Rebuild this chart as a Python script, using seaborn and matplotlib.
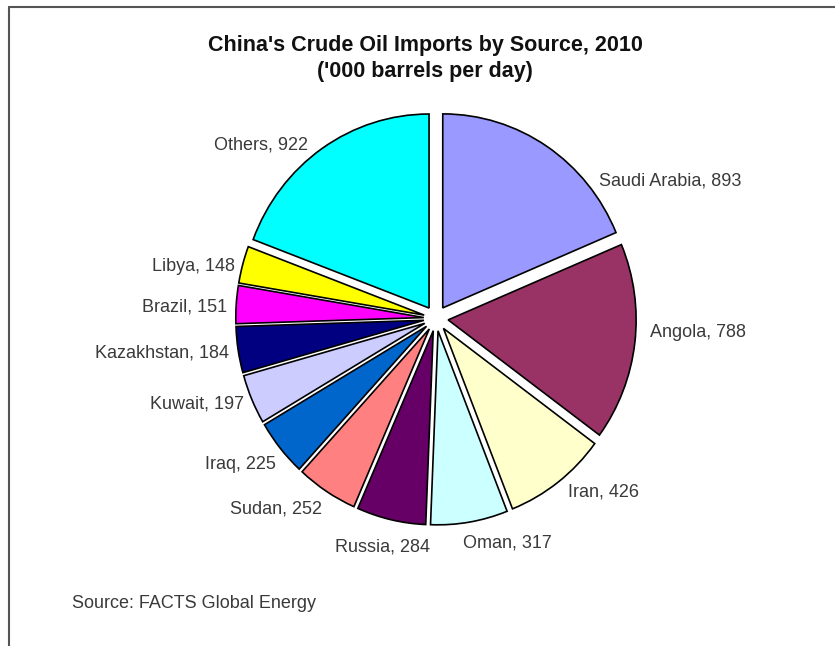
import matplotlib
matplotlib.use("Agg")
import matplotlib.pyplot as plt
from matplotlib.lines import Line2D
import seaborn as sns

# data ('000 barrels per day)
countries = ['Saudi Arabia', 'Angola', 'Iran', 'Oman', 'Russia', 'Sudan',
             'Iraq', 'Kuwait', 'Kazakhstan', 'Brazil', 'Libya', 'Others']
imports = [893, 788, 426, 317, 284, 252, 225, 197, 184, 151, 148, 922]
colors = ['#9999FF', '#993366', '#FFFFCC', '#CCFFFF', '#660066', '#FF8080',
          '#0066CC', '#CCCCFF', '#000080', '#FF00FF', '#FFFF00', '#00FFFF']

# label anchors (pie radius units) and alignment, Excel style layout
label_pos = [(0.867, 0.708), (1.138, -0.075), (0.702, -0.894), (0.144, -1.157),
             (-0.032, -1.178), (-0.606, -0.982), (-0.851, -0.755), (-1.021, -0.441),
             (-1.101, -0.178), (-1.112, 0.059), (-1.069, 0.270), (-0.681, 0.894)]
label_ha = ['left', 'left', 'left', 'left', 'right', 'right',
            'right', 'right', 'right', 'right', 'right', 'right']

sns.set_theme(style='white')
plt.rcParams['font.family'] = ['Liberation Sans', 'DejaVu Sans']

W, H = 835, 646
fig = plt.figure(figsize=(W / 100, H / 100), dpi=100)

# pie centre (436, 318) px, x radius 188 px, y radius 194 px
cx, cy, rx, ry = 436, 318.4, 188, 194
xlim, ylim = 1.5, 1.4
ax = fig.add_axes([(cx - xlim * rx) / W, (H - cy - ylim * ry) / H,
                   2 * xlim * rx / W, 2 * ylim * ry / H])

labels = ['{}, {}'.format(c, v) for c, v in zip(countries, imports)]
wedges, texts = ax.pie(imports, labels=labels, colors=colors,
                       explode=[0.065] * len(imports), startangle=90,
                       counterclock=False,
                       wedgeprops=dict(edgecolor='black', linewidth=1.2))
for t, pos, ha in zip(texts, label_pos, label_ha):
  t.set_position(pos)
  t.set_ha(ha)
  t.set_va('center')
  t.set_fontsize(13)
  t.set_color('#3a3a3a')

ax.set_aspect('auto')
ax.set_xlim(-xlim, xlim)
ax.set_ylim(-ylim, ylim)
ax.axis('off')

fig.text(425 / W, 1 - 46 / H, "China's Crude Oil Imports by Source, 2010",
         ha='center', va='center', fontsize=15.5, fontweight='bold', color='#111111')
fig.text(425 / W, 1 - 72 / H, "('000 barrels per day)",
         ha='center', va='center', fontsize=15.5, fontweight='bold', color='#111111')
fig.text(72 / W, 1 - 604 / H, 'Source: FACTS Global Energy',
         ha='left', va='center', fontsize=13, color='#3a3a3a')

# chart frame (only the top and left edges are inside the picture)
fig.add_artist(Line2D([9 / W, 9 / W], [0, 1 - 7 / H], color='#555555', lw=1.5))
fig.add_artist(Line2D([9 / W, 1], [1 - 7 / H, 1 - 7 / H], color='#555555', lw=1.5))

fig.savefig('out.png', dpi=100, facecolor='white')
